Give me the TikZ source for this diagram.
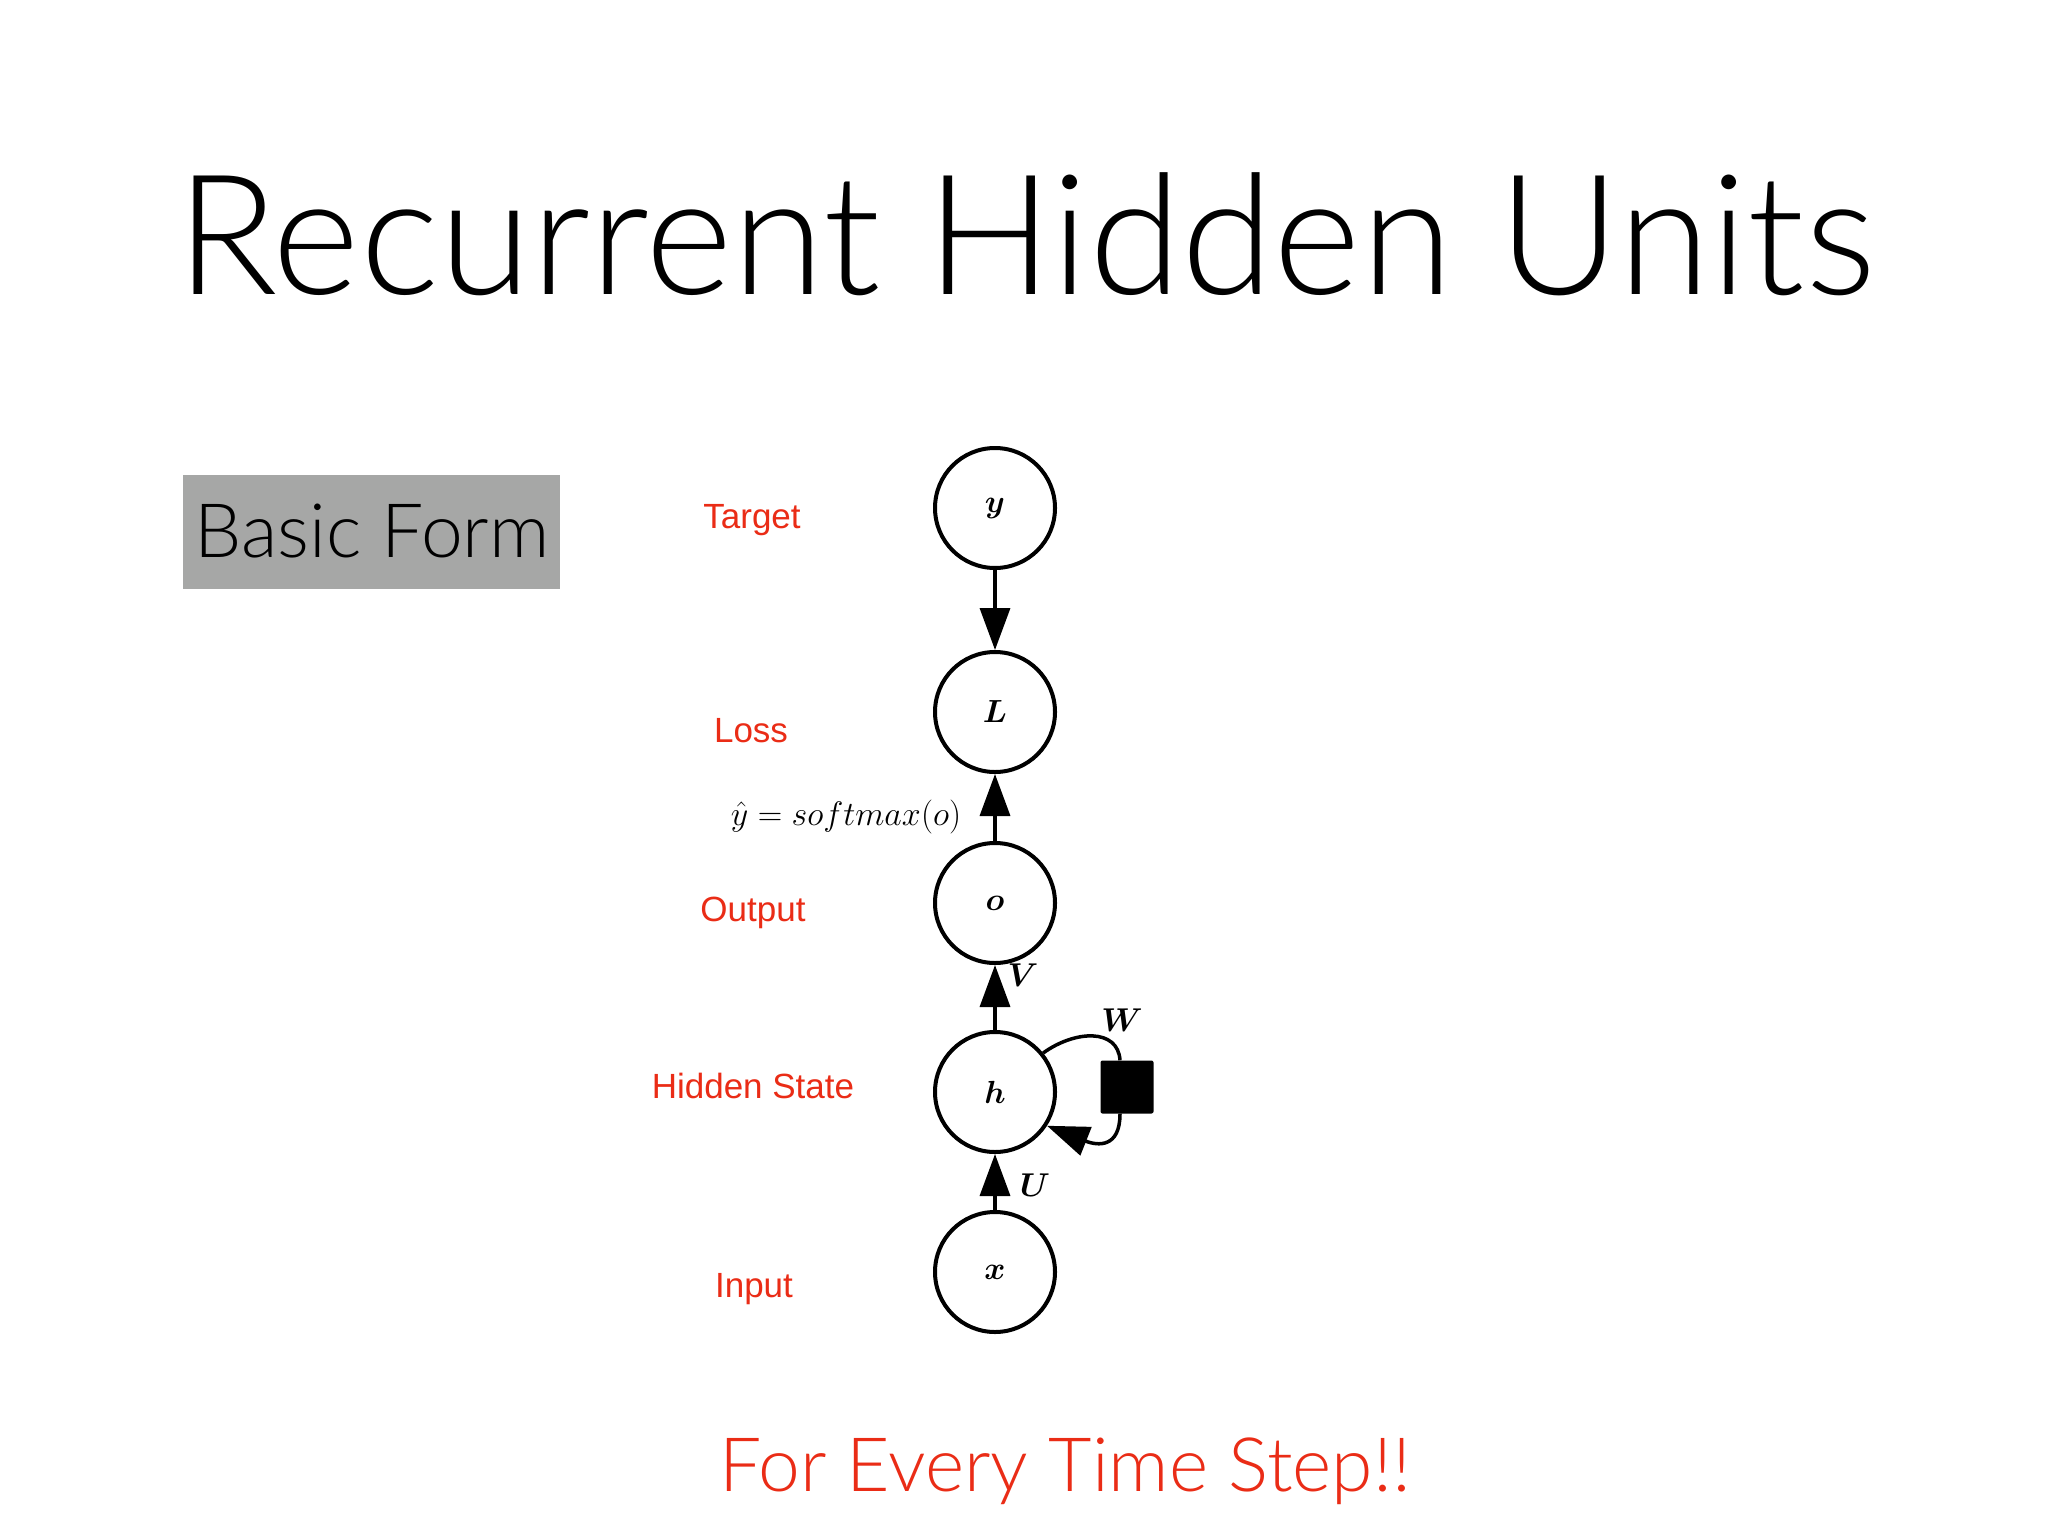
\RequirePackage{fix-cm}
\documentclass[tikz,border=0pt]{standalone}
\usepackage{amsmath}
\usepackage{fontspec}
\setmainfont{Lato}[UprightFont={* Light}]
\newfontfamily\labelfont{Liberation Sans}
\usetikzlibrary{arrows.meta,positioning,calc}

\definecolor{slidered}{RGB}{234,44,22}
\definecolor{boxgray}{RGB}{166,167,166}

\begin{document}
\begin{tikzpicture}[x=1pt,y=-1pt,
      rnnunit/.style={circle, draw, line width=4pt, minimum size=120pt, inner sep=0pt, font=\fontsize{32}{36}\selectfont},
      flow/.style={line width=3.5pt, -{Triangle[length=42pt,width=30pt]}},
      redlabel/.style={anchor=base, text=slidered, inner sep=0pt, font=\labelfont\fontsize{35}{40}\selectfont},
      wlabel/.style={inner sep=0pt, font=\fontsize{33}{36}\selectfont}]
      \fill[white] (0,0) rectangle (2048,1536);
      \useasboundingbox (0,0) rectangle (2048,1536);
      % title and side box
      \node[anchor=base, inner sep=0pt, font=\fontsize{167.5}{172}\selectfont] (title) at (1026,294) {Recurrent Hidden Units};
      \fill[boxgray] (183,475) rectangle (560,589);
      \node[anchor=base, inner sep=0pt, font=\fontsize{75}{80}\selectfont] (basic) at (372,557) {Basic Form};
      % the unfolded unit
      \node[rnnunit] (y) at (995,508) {$\boldsymbol{y}$};
      \node[rnnunit] (L) at (995,712) {$\boldsymbol{L}$};
      \node[rnnunit] (o) at (995,903) {$\boldsymbol{o}$};
      \node[rnnunit] (h) at (995,1092) {$\boldsymbol{h}$};
      \node[rnnunit] (x) at (995,1272) {$\boldsymbol{x}$};
      \node[fill=black, minimum size=53pt, inner sep=0pt, rounded corners=2pt] (delay) at (1127,1087) {};
      \draw[flow] (y) -- (L);
      \draw[flow] (o) -- (L);
      \draw[flow] (h) -- (o);
      \draw[flow] (x) -- (h);
      \draw[line width=3.5pt] (h.39) .. controls (1075,1030) and (1118,1028) .. ([xshift=-7pt]delay.north);
      \draw[flow] ([xshift=-7pt]delay.south) .. controls (1120,1148) and (1098,1146) .. (h.-33);
      \node[wlabel] (lblV) at (1023,975) {$\boldsymbol{V}$};
      \node[wlabel] (lblW) at (1122,1020) {$\boldsymbol{W}$};
      \node[wlabel] (lblU) at (1035,1185) {$\boldsymbol{U}$};
      \node[anchor=base, inner sep=0pt, font=\fontsize{34}{38}\selectfont] (softmax) at (846,825) {$\hat{y} = softmax(o)$};
      % red captions
      \node[redlabel] (target) at (752,528) {Target};
      \node[redlabel] (loss) at (751,742) {Loss};
      \node[redlabel] (output) at (753,921) {Output};
      \node[redlabel] (hidden) at (753,1098) {Hidden State};
      \node[redlabel] (input) at (754,1297) {Input};
      \node[anchor=base, inner sep=0pt, text=slidered, font=\fontsize{75}{80}\selectfont] (every) at (1065,1491) {For Every Time Step!!};
\end{tikzpicture}
\end{document}
